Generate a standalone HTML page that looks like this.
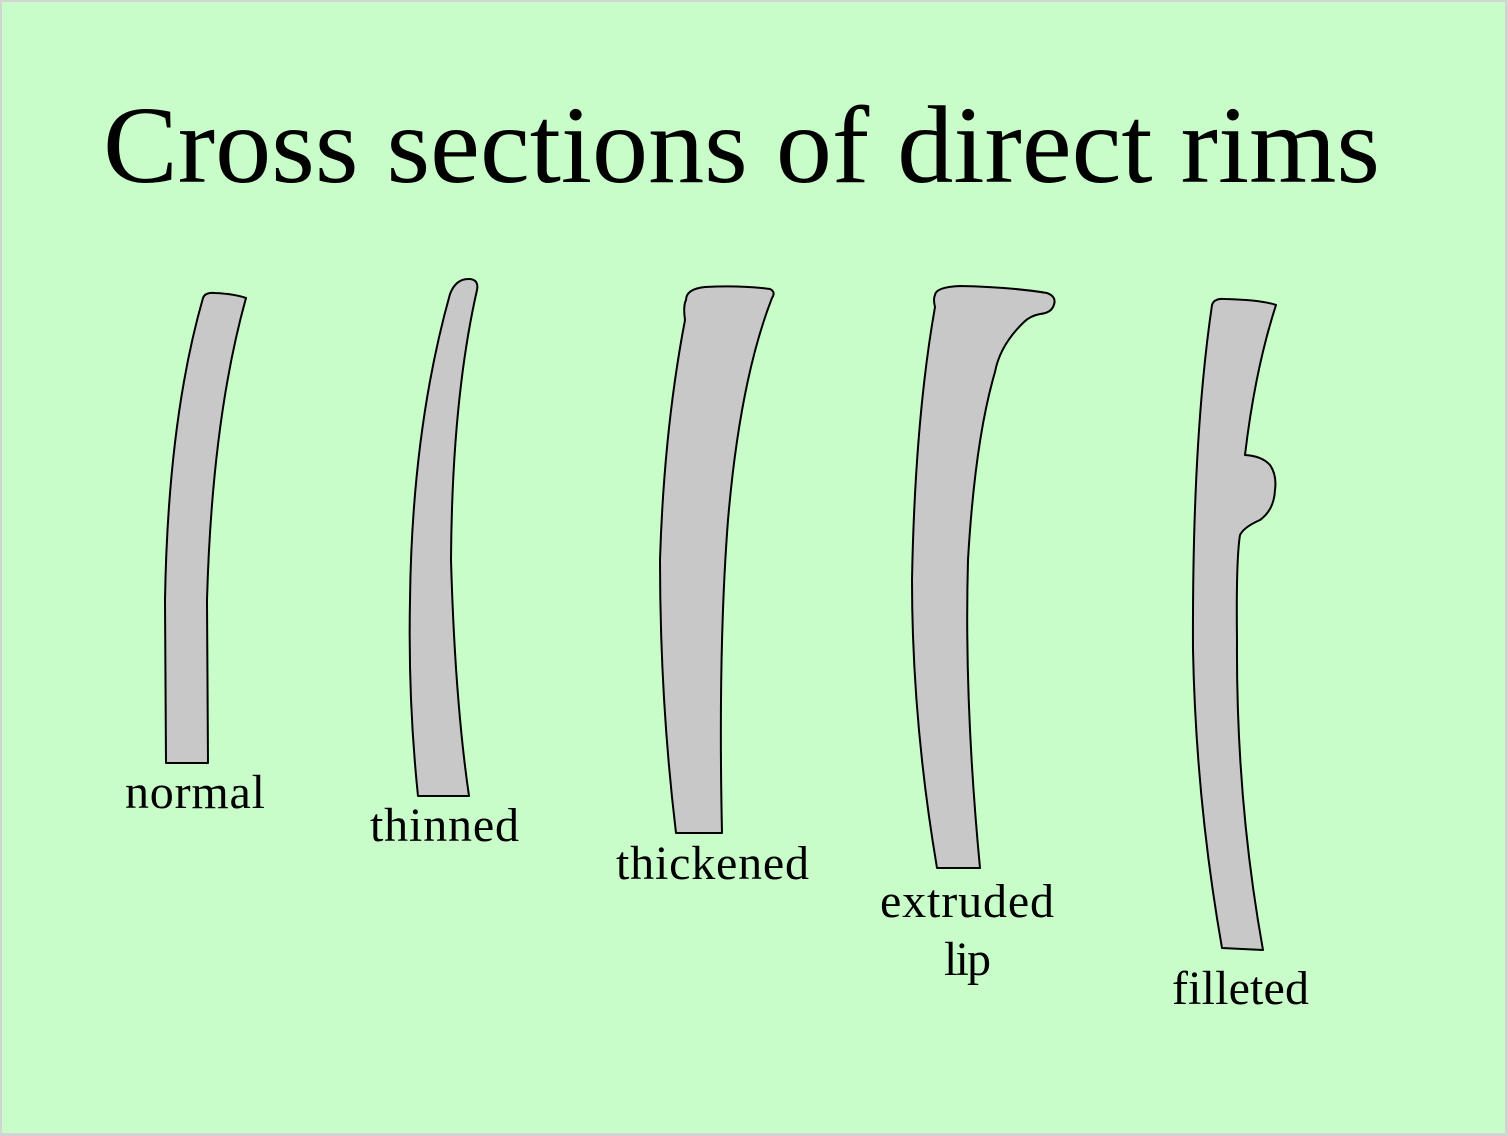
<!DOCTYPE html>
<html><head><meta charset="utf-8"><style>
html,body{margin:0;padding:0;background:#d4d4d4;}
svg{display:block}
</style></head><body>
<svg width="1508" height="1136" viewBox="0 0 1508 1136" xmlns="http://www.w3.org/2000/svg">
<rect x="0" y="0" width="1508" height="1136" fill="#d4d4d4"/>
<rect x="2" y="2" width="1503" height="1131" fill="#c8fcc8"/>
<text x="103" y="182" textLength="1277" lengthAdjust="spacingAndGlyphs" font-family="Liberation Serif, serif" font-size="110" fill="#000">Cross sections of direct rims</text>
<g fill="#c8c8c8" stroke="#000" stroke-width="2" stroke-linejoin="round">
<path d="M203,298 Q205,292 215,293 Q235,294 246,298 Q212,420 207,600 L208,763 L166,763 L165,600 Q168,420 203,298 Z"/>
<path d="M450,294 Q456,278 470,279 Q479,280 477,290 Q452,400 451,560 Q455,700 469,796 L418,796 Q408,700 410,600 Q412,430 450,294 Z"/>
<path d="M686,300 Q686,289 705,287 Q740,285 770,289 Q776,292 772,298 Q740,380 728,520 Q718,650 722,833 L676,833 Q660,700 660,560 Q664,430 685,320 Q683,306 686,300 Z"/>
<path d="M935,295 Q936,287 960,286 Q1010,287 1047,293 Q1058,297 1053,307 Q1050,313 1040,314 Q1030,316 1024,322 Q1000,345 995,372 Q975,440 968,560 Q964,700 980,868 L937,868 Q912,720 912,580 Q915,420 935,307 Q933,299 935,295 Z"/>
<path d="M1212,305 Q1214,298 1225,299 Q1262,300 1276,305 Q1255,370 1245,455 Q1262,456 1270,465 Q1277,475 1275,490 Q1274,510 1260,520 Q1244,527 1240,535 Q1236,560 1237,640 Q1236,800 1263,950 L1222,948 Q1196,800 1193,650 Q1192,440 1212,305 Z"/>
</g>
<g font-family="Liberation Serif, serif" font-size="48" fill="#000" lengthAdjust="spacingAndGlyphs">
<text x="125" y="808" textLength="140">normal</text>
<text x="370" y="841" textLength="149">thinned</text>
<text x="616" y="879" textLength="193">thickened</text>
<text x="880" y="917" textLength="174">extruded</text>
<text x="944" y="975" textLength="47">lip</text>
<text x="1172" y="1004" textLength="137">filleted</text>
</g>
</svg>
</body></html>
